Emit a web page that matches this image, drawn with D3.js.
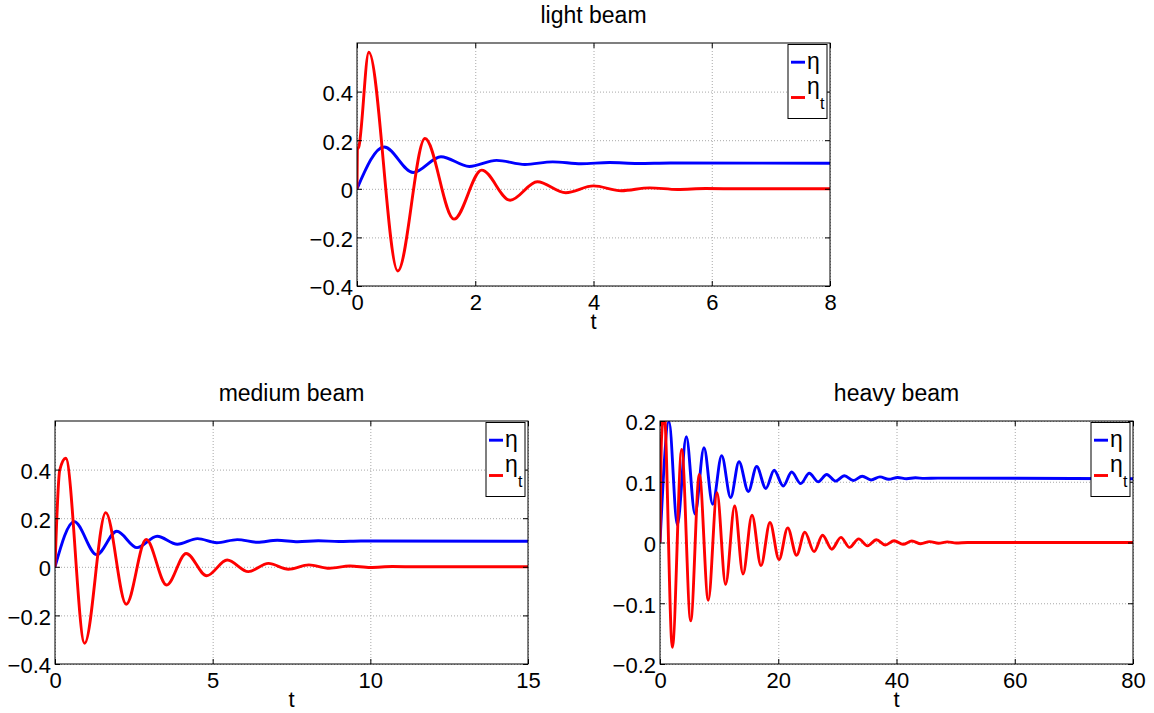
<!DOCTYPE html>
<html>
<head>
<meta charset="utf-8">
<script src="https://cdn.jsdelivr.net/npm/d3@7"></script>
<style>
  html, body { margin: 0; padding: 0; background: #fff; }
  svg { display: block; }
</style>
</head>
<body>
<svg id="fig" width="1154" height="713"></svg>
<script>
// Beam responses: [t, value] pairs at the turning points of each signal.
const lightEta = [[0,0],[0.46,0.172],[0.95,0.067],[1.42,0.132],[1.90,0.092],[2.36,0.117],[2.84,0.100],[3.31,0.111],[3.79,0.103],[4.27,0.108],[4.75,0.104],[5.3,0.106],[8,0.105]];
const lightEtaT = [[0,0],[0.006,0.16],[0.03,0.172],[0.2,0.562],[0.69,-0.338],[1.15,0.207],[1.64,-0.125],[2.11,0.077],[2.59,-0.047],[3.05,0.029],[3.53,-0.016],[4.0,0.012],[4.47,-0.008],[4.95,0.004],[5.42,-0.003],[5.9,0.001],[6.5,0],[8,0]];

const mediumEta = [[0,0],[0.61,0.186],[1.32,0.050],[1.96,0.146],[2.60,0.079],[3.24,0.126],[3.88,0.093],[4.52,0.116],[5.13,0.099],[5.78,0.112],[6.42,0.101],[7.05,0.109],[7.7,0.103],[8.35,0.107],[9.0,0.104],[9.7,0.106],[15,0.105]];
const mediumEtaT = [[0,0],[0.15,0.398],[0.34,0.447],[0.94,-0.315],[1.61,0.223],[2.26,-0.154],[2.89,0.113],[3.54,-0.075],[4.16,0.055],[4.81,-0.037],[5.46,0.028],[6.13,-0.020],[6.77,0.014],[7.40,-0.010],[8.05,0.008],[8.7,-0.006],[9.35,0.003],[10.0,-0.003],[10.7,0.001],[11.5,0],[15,0]];

const heavyEta = [[0,0],[1.52,0.199],[2.93,0.029],[4.45,0.174],[5.92,0.047],[7.44,0.156],[8.91,0.063],[10.43,0.143],[11.95,0.074],[13.36,0.133],[14.94,0.084],[16.35,0.125],[17.9,0.089],[19.3,0.119],[20.85,0.093],[22.27,0.116],[23.8,0.097],[25.25,0.114],[26.75,0.100],[28.2,0.112],[29.7,0.101],[31.2,0.110],[32.7,0.102],[34.2,0.109],[35.7,0.103],[37.2,0.108],[38.7,0.104],[40.2,0.107],[41.7,0.105],[43.2,0.1065],[44.7,0.1055],[47,0.106],[80,0.105]];
const heavyEtaT = [[0,0],[0.25,0.17],[0.7,0.215],[2.09,-0.1725],[3.67,0.153],[5.19,-0.129],[6.65,0.112],[8.17,-0.095],[9.64,0.082],[11.1,-0.069],[12.63,0.060],[14.04,-0.052],[15.56,0.045],[17.08,-0.038],[18.6,0.033],[20.13,-0.028],[21.6,0.024],[23.1,-0.021],[24.5,0.017],[26.05,-0.015],[27.5,0.012],[29.05,-0.011],[30.6,0.0085],[32.05,-0.008],[33.6,0.006],[35.1,-0.0055],[36.6,0.0045],[38.1,-0.004],[39.6,0.003],[41.1,-0.003],[42.6,0.0025],[44.1,-0.002],[45.6,0.0015],[47.1,-0.0012],[48.6,0.001],[50.1,-0.0008],[52,0],[80,0]];

// Axis ticks
const lightXTicks = [0, 2, 4, 6, 8];
const mediumXTicks = [0, 5, 10, 15];
const heavyXTicks = [0, 20, 40, 60, 80];
const beamYTicks = [-0.4, -0.2, 0, 0.2, 0.4];
const heavyYTicks = [-0.2, -0.1, 0, 0.1, 0.2];

// Titles and legend text
const titles = ["light beam", "medium beam", "heavy beam"];
const xLabel = "t";
const legendNames = ["\u03B7", "\u03B7"];
const legendSub = ["", "t"];
const seriesColors = ["#0000ff", "#ff0000"];

const FONT = '"Liberation Sans", Arial, Helvetica, sans-serif';
const svg = d3.select("#fig");

const panels = [
  { title: titles[0], left: 357, top: 43, width: 473, height: 243,
    xDomain: [0, 8], yDomain: [-0.4, 0.6], xTicks: lightXTicks, yTicks: beamYTicks,
    series: [lightEta, lightEtaT] },
  { title: titles[1], left: 55, top: 421, width: 473, height: 243,
    xDomain: [0, 15], yDomain: [-0.4, 0.6], xTicks: mediumXTicks, yTicks: beamYTicks,
    series: [mediumEta, mediumEtaT] },
  { title: titles[2], left: 660, top: 421, width: 473, height: 243,
    xDomain: [0, 80], yDomain: [-0.2, 0.2], xTicks: heavyXTicks, yTicks: heavyYTicks,
    series: [heavyEta, heavyEtaT] }
];

const tickText = d => (d < 0 ? "\u2212" : "") + String(Math.abs(d));

function styleAxisText(sel) {
  sel.attr("font-family", FONT).attr("font-size", 22);
  sel.selectAll("text").attr("fill", "#000");
}

panels.forEach((p, i) => {
  const g = svg.append("g").attr("transform", `translate(${p.left},${p.top})`);
  const x = d3.scaleLinear().domain(p.xDomain).range([0, p.width]);
  const y = d3.scaleLinear().domain(p.yDomain).range([p.height, 0]);

  // dotted grid
  g.append("g")
    .attr("transform", `translate(0,${p.height})`)
    .call(d3.axisBottom(x).tickValues(p.xTicks).tickSize(-p.height).tickFormat(""))
    .call(s => s.select(".domain").remove())
    .selectAll("line").attr("stroke", "#a8a8a8").attr("stroke-dasharray", "1,2");
  g.append("g")
    .call(d3.axisLeft(y).tickValues(p.yTicks).tickSize(-p.width).tickFormat(""))
    .call(s => s.select(".domain").remove())
    .selectAll("line").attr("stroke", "#a8a8a8").attr("stroke-dasharray", "1,2");

  // curves, clipped to the axes
  const clipId = "clip" + i;
  g.append("clipPath").attr("id", clipId)
    .append("rect").attr("width", p.width).attr("height", p.height);
  const line = d3.line().x(d => x(d[0])).y(d => y(d[1])).curve(d3.curveMonotoneX);
  const plot = g.append("g").attr("clip-path", `url(#${clipId})`);
  p.series.forEach((s, k) => {
    plot.append("path").datum(s)
      .attr("d", line)
      .attr("fill", "none")
      .attr("stroke", seriesColors[k])
      .attr("stroke-width", 2.9)
      .attr("stroke-linejoin", "round");
  });

  // inward ticks on all four sides
  g.append("g").attr("transform", `translate(0,${p.height})`)
    .call(d3.axisBottom(x).tickValues(p.xTicks).tickSizeInner(-5).tickSizeOuter(0).tickPadding(8.5).tickFormat(tickText))
    .call(s => s.select(".domain").remove())
    .call(styleAxisText);
  g.append("g")
    .call(d3.axisTop(x).tickValues(p.xTicks).tickSizeInner(-5).tickSizeOuter(0).tickFormat(""))
    .call(s => s.select(".domain").remove());
  g.append("g")
    .call(d3.axisLeft(y).tickValues(p.yTicks).tickSizeInner(-5).tickSizeOuter(0).tickPadding(4).tickFormat(tickText))
    .call(s => s.select(".domain").remove())
    .call(styleAxisText)
    .call(s => s.selectAll("text").attr("dy", "0.4em"));
  g.append("g").attr("transform", `translate(${p.width},0)`)
    .call(d3.axisRight(y).tickValues(p.yTicks).tickSizeInner(-5).tickSizeOuter(0).tickFormat(""))
    .call(s => s.select(".domain").remove());
  g.selectAll(".tick line").filter(function () { return !this.getAttribute("stroke-dasharray"); })
    .attr("stroke", "#000");

  // axes box
  g.append("rect").attr("width", p.width).attr("height", p.height)
    .attr("fill", "none").attr("stroke", "#000").attr("stroke-width", 1);

  // title and x label
  g.append("text").attr("x", p.width / 2).attr("y", -20)
    .attr("text-anchor", "middle").attr("font-family", FONT).attr("font-size", 23)
    .text(p.title);
  g.append("text").attr("x", p.width / 2).attr("y", p.height + 43)
    .attr("text-anchor", "middle").attr("font-family", FONT).attr("font-size", 22)
    .text(xLabel);

  // legend, top-right inside the axes
  const lw = 39, lh = 74;
  const lg = g.append("g").attr("transform", `translate(${p.width - 3 - lw},1.5)`);
  lg.append("rect").attr("width", lw).attr("height", lh)
    .attr("fill", "#fff").attr("stroke", "#000").attr("stroke-width", 1);
  const rows = [
    { ly: 17.7, tb: 24.5, sb: null },
    { ly: 53, tb: 49.5, sb: 64 }
  ];
  rows.forEach((r, k) => {
    lg.append("line").attr("x1", 3).attr("x2", 17).attr("y1", r.ly).attr("y2", r.ly)
      .attr("stroke", seriesColors[k]).attr("stroke-width", 2.9);
    lg.append("text").attr("x", 19).attr("y", r.tb)
      .attr("font-family", FONT).attr("font-size", 23).text(legendNames[k]);
    if (legendSub[k]) {
      lg.append("text").attr("x", 32).attr("y", r.sb)
        .attr("font-family", FONT).attr("font-size", 16).text(legendSub[k]);
    }
  });
});
</script>
</body>
</html>
